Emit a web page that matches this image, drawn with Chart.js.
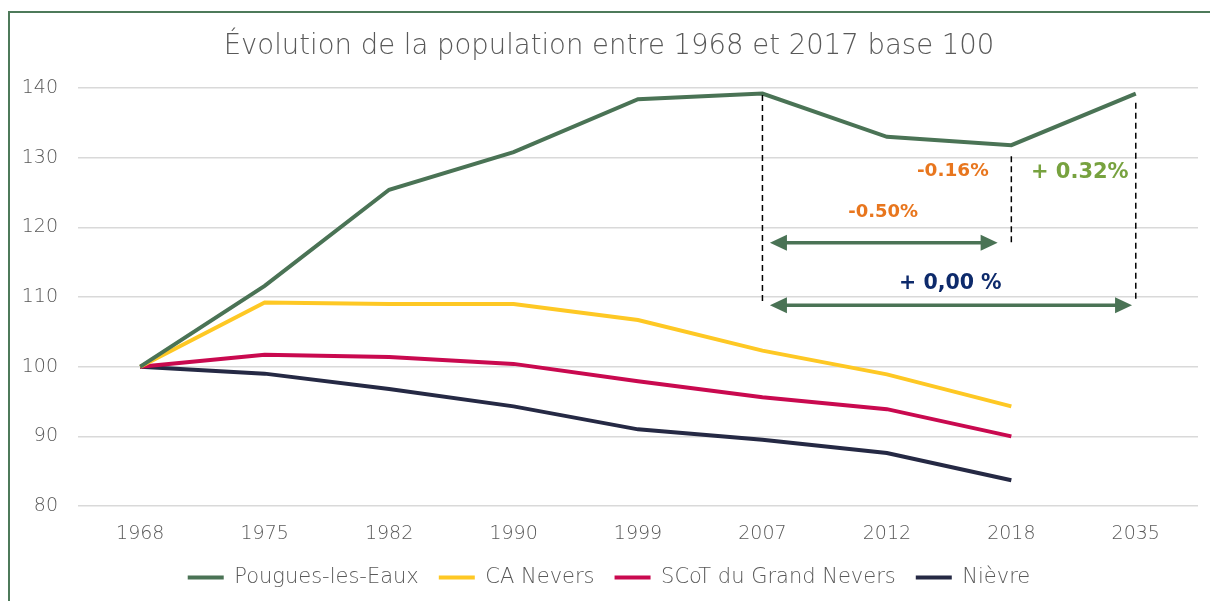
<!DOCTYPE html>
<html>
<head>
<meta charset="utf-8">
<script src="https://cdn.jsdelivr.net/npm/chart.js@4/dist/chart.umd.min.js"></script>
<style>
  html, body { margin: 0; padding: 0; background: #ffffff; }
  #frame { position: absolute; left: 8px; top: 11px; width: 1210px; height: 601px;
           border-top: 2px solid #4e7a5a; border-left: 2px solid #4e7a5a; }
  #wrap { position: absolute; left: 0; top: 0; width: 1210px; height: 601px; }
</style>
</head>
<body>
<div id="frame"></div>
<div id="wrap"><canvas id="popChart"></canvas></div>
<script>
  // Years (category axis)
  var years = ['1968', '1975', '1982', '1990', '1999', '2007', '2012', '2018', '2035'];

  // Base 100 index values
  var pougues = [100, 111.6, 125.4, 130.8, 138.4, 139.2, 133.0, 131.8, 139.2];
  var caNevers = [100, 109.2, 109.0, 109.0, 106.7, 102.3, 98.9, 94.3, null];
  var scot = [100, 101.7, 101.4, 100.4, 97.9, 95.6, 93.9, 90.0, null];
  var nievre = [100, 99.0, 96.8, 94.3, 91.0, 89.5, 87.6, 83.7, null];

  var yTicks = [80, 90, 100, 110, 120, 130, 140];

  // Annotations: dashed markers [x index, y from, y to]
  var dashMarks = [[5, 139.0, 109.2], [7, 130.2, 117.6], [8, 137.9, 109.2]];
  // Double arrows [x from, x to, y]
  var arrows = [[5.06, 6.89, 117.8], [5.06, 7.97, 108.8]];
  // Labels [text, x index, y value, colour, size]
  var notes = [
    ['-0.16%', 6.53, 128.1, '#e8761e', 18.5],
    ['-0.50%', 5.97, 122.1, '#e8761e', 18],
    ['+ 0.32%', 7.55, 127.8, '#77a23f', 21],
    ['+ 0,00 %', 6.51, 111.9, '#0d2a6b', 20.5]
  ];

  var FONT = 'DejaVu Sans';
  var GREY = '#595959';

  var annotationPlugin = {
    id: 'annotations',
    afterDatasetsDraw: function (chart) {
      var ctx = chart.ctx;
      var x = chart.scales.x;
      var y = chart.scales.y;
      ctx.save();

      // dashed vertical lines
      ctx.strokeStyle = '#000000';
      ctx.lineWidth = 1.5;
      ctx.setLineDash([6, 4]);
      for (var i = 0; i < dashMarks.length; i++) {
        var px = x.getPixelForValue(dashMarks[i][0]);
        ctx.beginPath();
        ctx.moveTo(px, y.getPixelForValue(dashMarks[i][1]));
        ctx.lineTo(px, y.getPixelForValue(dashMarks[i][2]));
        ctx.stroke();
      }
      ctx.setLineDash([]);

      // double headed arrows
      ctx.strokeStyle = '#4a7355';
      ctx.fillStyle = '#4a7355';
      ctx.lineWidth = 3.5;
      for (var j = 0; j < arrows.length; j++) {
        var x1 = x.getPixelForValue(arrows[j][0]);
        var x2 = x.getPixelForValue(arrows[j][1]);
        var ay = y.getPixelForValue(arrows[j][2]);
        ctx.beginPath();
        ctx.moveTo(x1 + 10, ay);
        ctx.lineTo(x2 - 10, ay);
        ctx.stroke();
        ctx.beginPath();
        ctx.moveTo(x1, ay);
        ctx.lineTo(x1 + 17, ay - 8);
        ctx.lineTo(x1 + 17, ay + 8);
        ctx.closePath();
        ctx.fill();
        ctx.beginPath();
        ctx.moveTo(x2, ay);
        ctx.lineTo(x2 - 17, ay - 8);
        ctx.lineTo(x2 - 17, ay + 8);
        ctx.closePath();
        ctx.fill();
      }

      // percentage labels
      ctx.textAlign = 'center';
      ctx.textBaseline = 'middle';
      for (var k = 0; k < notes.length; k++) {
        ctx.font = 'bold ' + notes[k][4] + 'px "' + FONT + '"';
        ctx.fillStyle = notes[k][3];
        ctx.fillText(notes[k][0], x.getPixelForValue(notes[k][1]), y.getPixelForValue(notes[k][2]));
      }
      ctx.restore();
    }
  };

  function lineSet(label, data, color) {
    return {
      label: label,
      data: data,
      borderColor: color,
      backgroundColor: color,
      borderWidth: 4,
      pointRadius: 0,
      tension: 0,
      spanGaps: false
    };
  }

  var ctx = document.getElementById('popChart').getContext('2d');
  var popChart = new Chart(ctx, {
    type: 'line',
    data: {
      labels: years,
      datasets: [
        lineSet('Pougues-les-Eaux', pougues, '#4a7355'),
        lineSet('CA Nevers', caNevers, '#fec824'),
        lineSet('SCoT du Grand Nevers', scot, '#c9094f'),
        lineSet('Nièvre', nievre, '#252944')
      ]
    },
    options: {
      responsive: true,
      maintainAspectRatio: false,
      animation: false,
      layout: { padding: { left: 20, right: 12, top: 0, bottom: 3 } },
      plugins: {
        title: {
          display: true,
          text: 'Évolution de la population entre 1968 et 2017 base 100',
          color: GREY,
          font: { family: FONT, size: 27.5, weight: 300 },
          padding: { top: 30, bottom: 25 }
        },
        legend: {
          position: 'bottom',
          labels: {
            color: GREY,
            font: { family: FONT, size: 21, weight: 300 },
            boxWidth: 36,
            boxHeight: 4,
            padding: 20,
            generateLabels: function (chart) {
              var items = Chart.defaults.plugins.legend.labels.generateLabels(chart);
              items.forEach(function (it) { it.lineWidth = 0; });
              return items;
            }
          }
        },
        tooltip: { enabled: false }
      },
      scales: {
        x: {
          offset: true,
          grid: { display: false, drawTicks: false },
          border: { display: false },
          ticks: { color: GREY, font: { family: FONT, size: 19, weight: 300 }, padding: 17, maxRotation: 0 },
          afterFit: function (scale) { scale.height = 41; }
        },
        y: {
          min: 80,
          max: 140,
          afterBuildTicks: function (scale) {
            scale.ticks = yTicks.map(function (v) { return { value: v }; });
          },
          grid: { color: '#d9d9d9', lineWidth: 1.5, drawTicks: false },
          border: { display: false },
          ticks: { color: GREY, font: { family: FONT, size: 19, weight: 300 }, padding: 20 },
          afterFit: function (scale) { scale.width = 58; }
        }
      }
    },
    plugins: [annotationPlugin]
  });
</script>
</body>
</html>
